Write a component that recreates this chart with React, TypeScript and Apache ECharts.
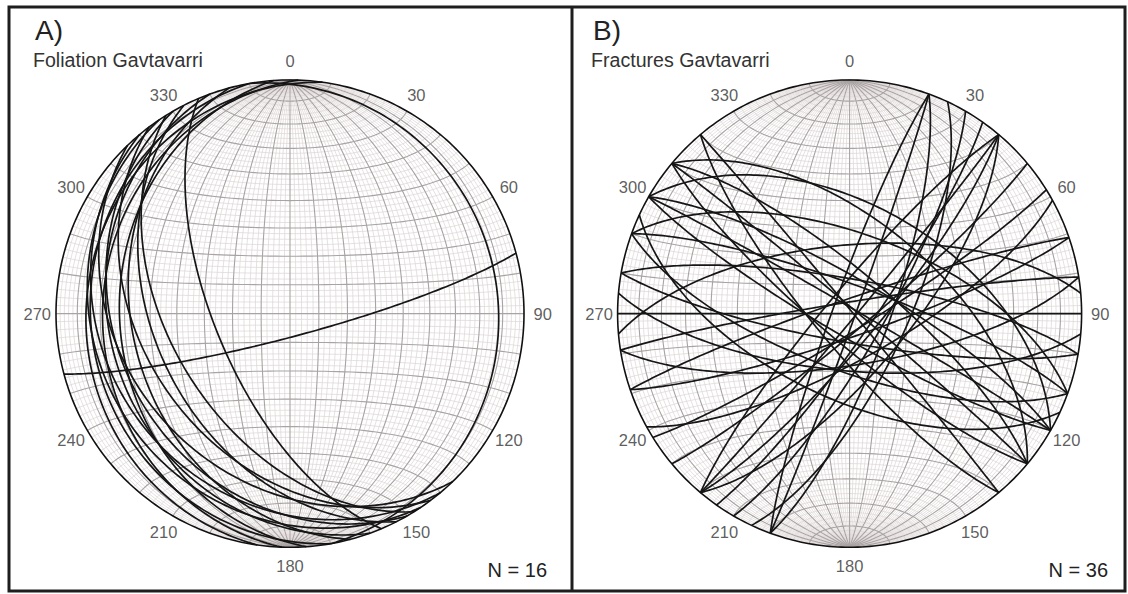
import React, { useEffect, useRef } from "react";
import * as echarts from "echarts";

// ---- Data (strike with right-hand rule, dip) ----
// Panel A: foliation planes
const foliationStrike = [75, 157, 350, 136, 140, 143, 146, 150, 153, 160, 165, 170, 176, 182, 188, 148];
const foliationDip = [82, 64, 12, 30, 22, 38, 18, 27, 42, 24, 33, 16, 28, 21, 14, 48];
// Panel B: fracture planes
const fractureStrike = [
  20, 20, 200, 25, 30, 40, 40, 40, 220, 58, 61, 71, 251, 81, 261, 90, 280, 100,
  290, 110, 290, 300, 300, 120, 300, 310, 310, 130, 310, 320, 140, 35, 265, 95, 115, 50,
];
const fractureDip = [
  88, 76, 84, 70, 78, 88, 80, 70, 82, 84, 74, 82, 85, 72, 86, 90, 78, 80,
  80, 70, 62, 78, 88, 82, 52, 76, 88, 80, 58, 89, 78, 82, 66, 70, 60, 84,
];
const azimuthTicks = [0, 30, 60, 90, 120, 150, 180, 210, 240, 270, 300, 330];
const panelLetters = ["A)", "B)"];
const panelTitles = ["Foliation Gavtavarri", "Fractures Gavtavarri"];
const panelCounts = ["N = 16", "N = 36"];

const D2R = Math.PI / 180;

// Lower-hemisphere equal-area (Schmidt) projection of a unit vector (east, north, down)
function project(e: number, n: number, d: number): [number, number] {
  if (d < 0) {
    e = -e;
    n = -n;
    d = -d;
  }
  const k = Math.sqrt(1 / (1 + d));
  return [e * k, n * k];
}

function greatCircle(strike: number, dip: number, steps = 140): [number, number][] {
  const s = strike * D2R;
  const a = (strike + 90) * D2R;
  const dp = dip * D2R;
  const sv = [Math.sin(s), Math.cos(s), 0];
  const dv = [Math.cos(dp) * Math.sin(a), Math.cos(dp) * Math.cos(a), Math.sin(dp)];
  const pts: [number, number][] = [];
  for (let i = 0; i <= steps; i++) {
    const l = (i / steps) * Math.PI;
    const c = Math.cos(l);
    const sn = Math.sin(l);
    pts.push(project(c * sv[0] + sn * dv[0], c * sv[1] + sn * dv[1], c * sv[2] + sn * dv[2]));
  }
  return pts;
}

function meridian(m: number, steps = 90): [number, number][] {
  const w = [Math.sin(m * D2R), 0, Math.cos(m * D2R)];
  const pts: [number, number][] = [];
  for (let i = 0; i <= steps; i++) {
    const f = (i / steps) * Math.PI;
    const c = Math.cos(f);
    const s = Math.sin(f);
    pts.push(project(s * w[0], c, s * w[2]));
  }
  return pts;
}

function smallCircle(b: number, steps = 72): [number, number][] {
  const pts: [number, number][] = [];
  const sb = Math.sin(b * D2R);
  const cb = Math.cos(b * D2R);
  for (let i = 0; i <= steps; i++) {
    const p = (-90 + (180 * i) / steps) * D2R;
    pts.push(project(sb * Math.sin(p), cb, sb * Math.cos(p)));
  }
  return pts;
}

function primitive(steps = 360): [number, number][] {
  const pts: [number, number][] = [];
  for (let i = 0; i <= steps; i++) {
    const t = (i / steps) * 2 * Math.PI;
    pts.push([Math.sin(t), Math.cos(t)]);
  }
  return pts;
}

const FONT = "'Liberation Sans', Arial, Helvetica, sans-serif";

function netSeries(gi: number, strikes: number[], dips: number[]) {
  const minor: any[] = [];
  const major: any[] = [];
  for (let m = -88; m <= 88; m += 2) {
    (m % 10 === 0 ? major : minor).push({ coords: meridian(m) });
  }
  for (let b = 2; b <= 178; b += 2) {
    (b % 10 === 0 ? major : minor).push({ coords: smallCircle(b) });
  }
  const planes = strikes.map((s, i) => ({ coords: greatCircle(s, dips[i]) }));
  const base = {
    type: "lines",
    coordinateSystem: "cartesian2d",
    xAxisIndex: gi,
    yAxisIndex: gi,
    polyline: true,
    silent: true,
  };
  return [
    { ...base, data: minor, lineStyle: { color: "#ddd4d4", width: 0.7, opacity: 1 } },
    { ...base, data: major, lineStyle: { color: "#a9a3a3", width: 1.1, opacity: 1 } },
    { ...base, data: planes, lineStyle: { color: "#161616", width: 1.7, opacity: 1 } },
    { ...base, data: [{ coords: primitive() }], lineStyle: { color: "#111", width: 1.6, opacity: 1 } },
    {
      type: "scatter",
      xAxisIndex: gi,
      yAxisIndex: gi,
      symbolSize: 1,
      itemStyle: { color: "rgba(0,0,0,0)" },
      silent: true,
      data: azimuthTicks.map((t) => ({
        name: String(t),
        value: [1.08 * Math.sin(t * D2R), 1.08 * Math.cos(t * D2R)],
      })),
      label: {
        show: true,
        position: "inside",
        formatter: "{b}",
        color: "#333",
        fontSize: 16.5,
        fontFamily: FONT,
      },
    },
  ];
}

export default function App() {
  const ref = useRef<HTMLDivElement>(null);
  useEffect(() => {
    if (!ref.current) return;
    const chart = echarts.init(ref.current, null, { renderer: "svg" });
    const centers = [290, 852];
    const cy = 314;
    const R = 234;
    const span = 1.2;
    const grids = centers.map((cx) => ({
      left: cx - R * span,
      top: cy - R * span,
      width: 2 * R * span,
      height: 2 * R * span,
    }));
    const axisCommon = { type: "value", min: -span, max: span, show: false };
    const graphics: any[] = [
      {
        type: "rect",
        shape: { x: 9, y: 7, width: 1116, height: 584 },
        style: { fill: "none", stroke: "#1e1e1e", lineWidth: 3 },
        silent: true,
      },
      {
        type: "line",
        shape: { x1: 572, y1: 7, x2: 572, y2: 591 },
        style: { stroke: "#1e1e1e", lineWidth: 3 },
        silent: true,
      },
    ];
    const letterX = [35, 593];
    const countRight = [547, 1108];
    for (let i = 0; i < 2; i++) {
      graphics.push({
        type: "text",
        x: letterX[i],
        y: 30,
        style: {
          text: panelLetters[i],
          font: `28px ${FONT}`,
          fill: "#222",
          textVerticalAlign: "middle",
        },
      });
      graphics.push({
        type: "text",
        x: letterX[i] - 2,
        y: 60,
        style: {
          text: panelTitles[i],
          font: `19.6px ${FONT}`,
          fill: "#333",
          textVerticalAlign: "middle",
        },
      });
      graphics.push({
        type: "text",
        x: countRight[i],
        y: 570,
        style: {
          text: panelCounts[i],
          font: `20px ${FONT}`,
          fill: "#222",
          textAlign: "right",
          textVerticalAlign: "middle",
        },
      });
    }
    chart.setOption({
      animation: false,
      backgroundColor: "#ffffff",
      grid: grids,
      xAxis: [
        { ...axisCommon, gridIndex: 0 },
        { ...axisCommon, gridIndex: 1 },
      ],
      yAxis: [
        { ...axisCommon, gridIndex: 0 },
        { ...axisCommon, gridIndex: 1 },
      ],
      series: [...netSeries(0, foliationStrike, foliationDip), ...netSeries(1, fractureStrike, fractureDip)],
      graphic: graphics,
    });
    return () => chart.dispose();
  }, []);
  return (
    <div
      ref={ref}
      style={{ position: "fixed", left: 0, top: 0, width: 1128, height: 594, background: "#fff" }}
    />
  );
}
